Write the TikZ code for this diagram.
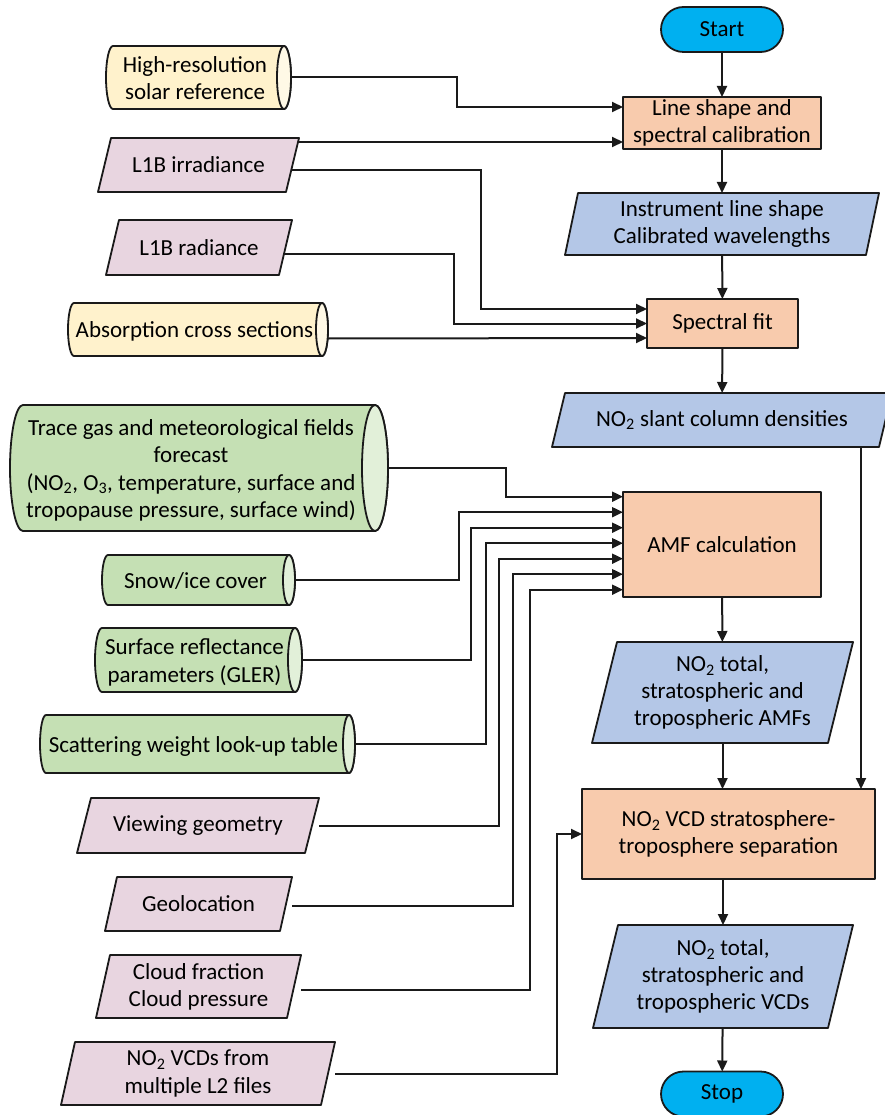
\documentclass[tikz,border=0pt]{standalone}
\usepackage{fontspec}
\setmainfont{Carlito}
\usetikzlibrary{arrows.meta,calc}
\pgfdeclarelayer{lines}
\pgfdeclarelayer{shapes}
\pgfsetlayers{lines,shapes,main}
\definecolor{peach}{HTML}{F8CBAD}
\definecolor{bluebox}{HTML}{B4C7E7}
\definecolor{pinkbox}{HTML}{E8D5E0}
\definecolor{greenbox}{HTML}{C5E0B4}
\definecolor{greencap}{HTML}{E2F0D9}
\definecolor{yellowbox}{HTML}{FFF2CC}
\definecolor{yellowcap}{HTML}{FFF9E6}
\definecolor{cyanbox}{HTML}{00B0F0}
\definecolor{edge}{HTML}{1A1A1A}
\newcommand\cylshape[5]{%
  \begin{pgfonlayer}{shapes}
  \draw[shapeline, fill=#4] ([xshift=#2pt]#1.north west) -- ([xshift=-#2pt]#1.north east)
     arc[start angle=90, end angle=-90, x radius=#2pt, y radius=#3pt]
     -- ([xshift=#2pt]#1.south west)
     arc[start angle=270, end angle=90, x radius=#2pt, y radius=#3pt] -- cycle;
  \draw[shapeline, fill=#5] ([xshift=-#2pt]#1.east) ellipse[x radius=#2pt, y radius=#3pt];
  \end{pgfonlayer}}
\newcommand\parashape[3]{%
  \begin{pgfonlayer}{shapes}
  \draw[shapeline, fill=#3] ([xshift=#2pt]#1.north west) -- (#1.north east)
     -- ([xshift=-#2pt]#1.south east) -- (#1.south west) -- cycle;
  \end{pgfonlayer}}
\newcommand\shifttext[2]{\raisebox{0pt}[\dimexpr\height+6pt\relax][\depth]{\begin{tabular}{@{}c@{}}#2\end{tabular}}\hspace*{#1pt}}
\tikzset{
  shapeline/.style={draw=edge, line width=1.8pt, line join=round},
  txt/.style={inner sep=0pt, outer sep=0pt, align=center, font=\fontsize{23}{27.2}\selectfont, text=black},
  cyltxt/.style={inner sep=0pt, outer sep=0pt, font=\fontsize{23}{27.2}\selectfont, text=black},
  proc/.style={txt, shapeline, fill=peach},
  startstop/.style={txt, shapeline, fill=cyanbox, rounded corners=22.5pt, minimum width=122pt, minimum height=45pt},
  arr/.style={draw=edge, line width=2pt, -{Triangle[length=11pt, width=10pt]}},
}
\begin{document}
\begin{tikzpicture}[x=1pt, y=-1pt]
\useasboundingbox (0,0) rectangle (884,1115);
% ---- main column ----
\node[startstop] (start) at (722,29.5) {Start};
\node[proc, minimum width=198pt, minimum height=52pt] (ls) at (722,123) {Line shape and\\spectral calibration};
\node[txt, minimum width=314pt, minimum height=62pt] (ilsp) at (722,224) {Instrument line shape\\Calibrated wavelengths};
\parashape{ilsp}{13}{bluebox}
\node[proc, minimum width=151pt, minimum height=49pt] (sf) at (722.5,323.5) {Spectral fit};
\node[txt, minimum width=340pt, minimum height=54pt] (scd) at (722,420) {NO\textsubscript{2} slant column densities};
\parashape{scd}{13}{bluebox}
\node[proc, minimum width=198pt, minimum height=105pt] (amf) at (722,544.5) {AMF calculation};
\node[txt, minimum width=261pt, minimum height=101pt] (amfs) at (722.5,692.5) {NO\textsubscript{2} total,\\stratospheric and\\tropospheric AMFs};
\parashape{amfs}{25}{bluebox}
\node[proc, minimum width=293pt, minimum height=90pt] (sep) at (728.5,834) {NO\textsubscript{2} VCD stratosphere-\\troposphere separation};
\node[txt, minimum width=260pt, minimum height=103pt] (vcds) at (723,976.5) {NO\textsubscript{2} total,\\stratospheric and\\tropospheric VCDs};
\parashape{vcds}{25}{bluebox}
\node[startstop] (stop) at (722,1094) {Stop};
% ---- left inputs ----
\node[cyltxt, minimum width=185pt, minimum height=63pt] (hr) at (198.5,77.5) {\shifttext{7}{High-resolution\\solar reference}};
\cylshape{hr}{7}{31.5}{yellowbox}{yellowcap}
\node[txt, minimum width=201pt, minimum height=54pt] (irr) at (198.5,165) {L1B irradiance};
\parashape{irr}{13}{pinkbox}
\node[txt, minimum width=186pt, minimum height=55pt] (rad) at (199,247.5) {L1B radiance};
\parashape{rad}{13}{pinkbox}
\node[cyltxt, minimum width=260pt, minimum height=53pt] (abs) at (198,329.5) {\shifttext{7}{Absorption cross sections}};
\cylshape{abs}{6}{26.5}{yellowbox}{yellowcap}
\node[cyltxt, minimum width=378pt, minimum height=126pt] (tg) at (199,468) {\shifttext{16}{Trace gas and meteorological fields\\forecast\\(NO\textsubscript{2}, O\textsubscript{3}, temperature, surface and\\tropopause pressure, surface wind)}};
\cylshape{tg}{13}{63}{greenbox}{greencap}
\node[cyltxt, minimum width=193pt, minimum height=50pt] (snow) at (198.5,580) {\shifttext{6}{Snow/ice cover}};
\cylshape{snow}{6}{25}{greenbox}{greencap}
\node[cyltxt, minimum width=207pt, minimum height=64pt] (surf) at (198.5,660) {\shifttext{8}{Surface reflectance\\parameters (GLER)}};
\cylshape{surf}{7}{32}{greenbox}{greencap}
\node[cyltxt, minimum width=315pt, minimum height=58pt] (scat) at (197.5,744) {\shifttext{8}{Scattering weight look-up table}};
\cylshape{scat}{6}{29}{greenbox}{greencap}
\node[txt, minimum width=242pt, minimum height=55pt] (view) at (198,825.5) {Viewing geometry};
\parashape{view}{14}{pinkbox}
\node[txt, minimum width=187pt, minimum height=54pt] (geo) at (198.5,904) {Geolocation};
\parashape{geo}{12}{pinkbox}
\node[txt, minimum width=205pt, minimum height=63pt] (cloud) at (198.5,986.5) {Cloud fraction\\Cloud pressure};
\parashape{cloud}{14}{pinkbox}
\node[txt, minimum width=274pt, minimum height=63pt] (l2) at (198,1073.5) {NO\textsubscript{2} VCDs from\\multiple L2 files};
\parashape{l2}{14}{pinkbox}
% ---- connectors ----
\begin{pgfonlayer}{lines}
\draw[arr] (start) -- (ls);
\draw[arr] (ls) -- (ilsp);
\draw[arr] (ilsp) -- (sf);
\draw[arr] (sf) -- (scd);
\draw[arr] (amf) -- (amfs);
\draw[arr] (amfs.south) -- (amfs.south |- sep.north);
\draw[arr] (vcds.north |- sep.south) -- (vcds.north);
\draw[arr] (vcds) -- (stop);
\draw[arr] ($(scd.south)+(139,0)$) -- ($(sep.north)+(132.5,0)$);
% spectral inputs
\draw[arr] (hr.east) -| ($(ls.west)+(-166,-16)$) -- ($(ls.west)+(0,-16)$);
\draw[arr] ($(irr.north east)+(-2,4)$) -- ($(ls.west)+(0,19)$);
\draw[arr] ($(irr.east)+(-8,5)$) -| ($(sf.west)+(-166,-14.5)$) -- ($(sf.west)+(0,-14.5)$);
\draw[arr] ($(rad.east)+(-8,6.5)$) -| ($(sf.west)+(-193,0)$) -- (sf.west);
\draw[arr] ($(abs.east)+(0,9)$) -- ($(sf.west)+(0,14.5)$);
% AMF inputs
\draw[arr] (tg.east) -| ($(amf.west)+(-117,-47.8)$) -- ($(amf.west)+(0,-47.8)$);
\draw[arr] (snow.east) -| ($(amf.west)+(-164,-32.3)$) -- ($(amf.west)+(0,-32.3)$);
\draw[arr] (surf.east) -| ($(amf.west)+(-152,-16.8)$) -- ($(amf.west)+(0,-16.8)$);
\draw[arr] (scat.east) -| ($(amf.west)+(-137.3,-1.3)$) -- ($(amf.west)+(0,-1.3)$);
\draw[arr] (view.east) -| ($(amf.west)+(-124,14.2)$) -- ($(amf.west)+(0,14.2)$);
\draw[arr] ($(geo.east)+(0,2)$) -| ($(amf.west)+(-110.3,29.7)$) -- ($(amf.west)+(0,29.7)$);
\draw[arr] ($(cloud.east)+(0,3.5)$) -| ($(amf.west)+(-93,45.2)$) -- ($(amf.west)+(0,45.2)$);
% separation input
\draw[arr] (l2.east) -| ($(sep.west)+(-25,0)$) -- (sep.west);
\end{pgfonlayer}
\end{tikzpicture}
\end{document}
